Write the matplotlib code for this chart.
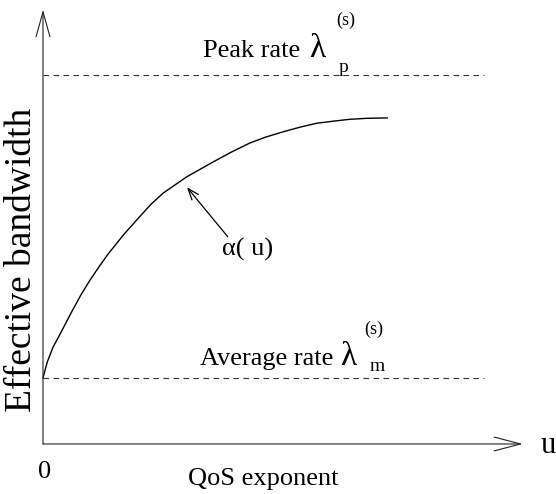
import matplotlib
matplotlib.use('Agg')
import matplotlib.pyplot as plt

plt.rcParams['font.family'] = ['Liberation Serif', 'DejaVu Serif']

# QoS exponent u and effective bandwidth alpha(u)
u_vals = [0.0, 0.09, 0.21, 0.36, 0.64, 0.81, 1.0, 1.19, 1.39, 1.73, 2.07, 2.30, 2.56,
          3.07, 3.62, 4.01, 4.41, 4.75, 5.12, 5.48, 5.84, 6.18, 6.55, 6.93, 7.34]
alpha_vals = [1.0, 1.24, 1.46, 1.66, 2.04, 2.26, 2.48, 2.68, 2.88, 3.18, 3.45, 3.63, 3.80,
              4.05, 4.27, 4.42, 4.56, 4.65, 4.73, 4.80, 4.86, 4.89, 4.92, 4.935, 4.94]

peak_rate = 5.59
avg_rate = 1.0
u_dash_end = 9.4

fig = plt.figure(figsize=(5.56, 4.94), dpi=100)
ax = fig.add_axes([0, 0, 1, 1])
ax.set_xlim(-0.917, 10.94)
ax.set_ylim(-0.758, 6.727)
ax.axis('off')

axis_col = '#222222'
# axes with open arrow heads
ax.annotate('', xy=(10.23, 0), xytext=(0, 0),
            arrowprops=dict(arrowstyle='->,head_length=19,head_width=5', mutation_scale=1,
                            lw=0.8, color=axis_col, shrinkA=0, shrinkB=0))
ax.annotate('', xy=(0, 6.58), xytext=(0, 0),
            arrowprops=dict(arrowstyle='->,head_length=18,head_width=5', mutation_scale=1,
                            lw=0.8, color=axis_col, shrinkA=0, shrinkB=0))

# peak / average rate
ax.plot([0, u_dash_end], [peak_rate, peak_rate], color='#333333', lw=0.8, ls=(0, (5, 4)))
ax.plot([0, u_dash_end], [avg_rate, avg_rate], color='#333333', lw=0.8, ls=(0, (5, 4)))

ax.plot(u_vals, alpha_vals, color='black', lw=1.0)

fs = 19
ax.text(3.41, 5.86, 'Peak rate', fontsize=fs, ha='left', va='baseline')
ax.text(5.68, 5.86, '\u03bb', fontsize=24, ha='left', va='baseline')
ax.text(6.45, 6.42, '(s)', fontsize=13, ha='center', va='center')
ax.text(6.40, 5.70, 'p', fontsize=14, ha='center', va='center')

ax.text(3.35, 1.197, 'Average rate', fontsize=fs, ha='left', va='baseline')
ax.text(6.34, 1.197, '\u03bb', fontsize=24, ha='left', va='baseline')
ax.text(7.06, 1.73, '(s)', fontsize=13, ha='center', va='center')
ax.text(7.12, 1.17, 'm', fontsize=14, ha='center', va='center')

ax.annotate('', xy=(3.07, 3.89), xytext=(3.94, 3.14),
            arrowprops=dict(arrowstyle='->,head_length=8,head_width=3', mutation_scale=1,
                            lw=0.9, color='black', shrinkA=0, shrinkB=0))
ax.text(4.37, 2.94, '\u03b1( u)', fontsize=fs, ha='center', va='center')

ax.text(0.04, -0.42, '0', fontsize=fs, ha='center', va='center')
ax.text(4.70, -0.53, 'QoS exponent', fontsize=fs, ha='center', va='center')
ax.text(10.77, -0.03, 'u', fontsize=22, ha='center', va='center')
ax.text(-0.45, 2.79, 'Effective bandwidth', fontsize=27, rotation=90, ha='center', va='center')

fig.savefig('out.png', dpi=100)
